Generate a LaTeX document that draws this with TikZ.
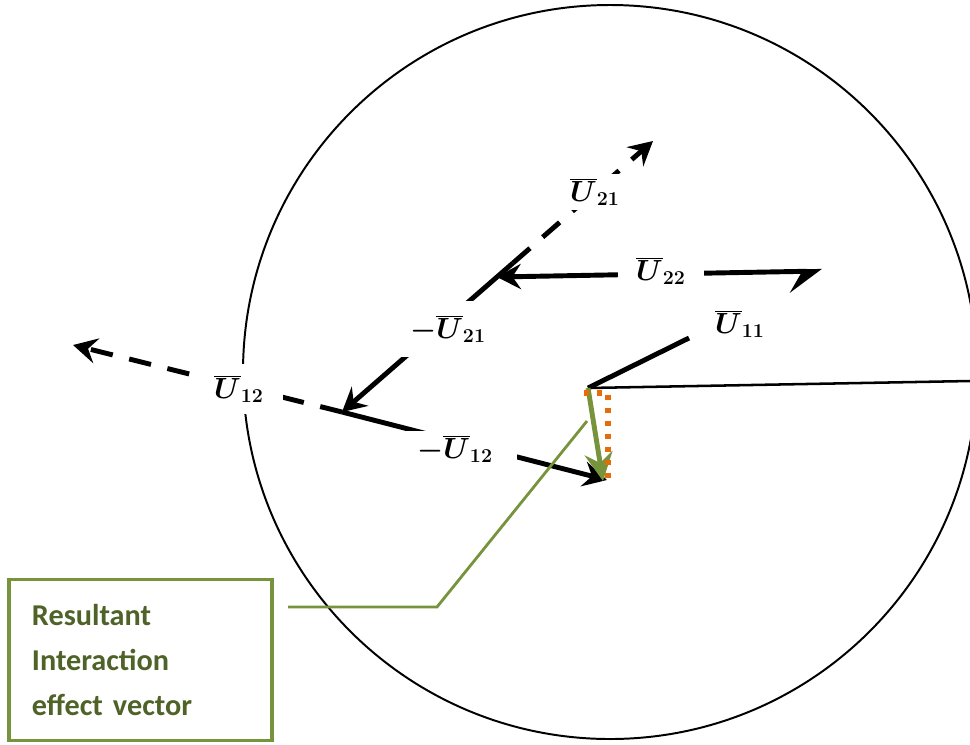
\documentclass[tikz,border=0pt]{standalone}
\usepackage{fontspec}
\newfontfamily\calibrifont{Carlito}
\usetikzlibrary{arrows.meta, positioning}
\definecolor{OG}{RGB}{119,147,60}
\definecolor{DOG}{RGB}{79,98,40}
\definecolor{OR}{RGB}{228,108,10}
\newcommand{\vlab}[2][]{$#1\overline{U}_{\mbox{\fontsize{14}{14}\selectfont\bfseries #2}}$}

\begin{document}
\begin{tikzpicture}[x=0.025cm, y=-0.025cm,
  seg/.style={line width=3.5pt},
  vec/.style={seg, -{Stealth[length=17pt, width=18pt, inset=6pt]}},
  dvec/.style={vec, dash pattern=on 16pt off 12pt},
  lab/.style={fill=white, inner ysep=3pt, font=\fontsize{21}{25}\selectfont\boldmath},
  notebox/.style={draw=OG, line width=2.5pt, minimum width=6.575cm, minimum height=4.025cm,
                  inner xsep=0.575cm, text width=5.425cm, align=left, text=DOG,
                  font=\calibrifont\bfseries\fontsize{21.5}{31.9}\selectfont}
]
\useasboundingbox (0,0) rectangle (970,744);

% circle and radius
\begin{scope}
  \clip (0,0) rectangle (970,744);
  \draw[line width=1.4pt] (610,372) circle[radius=367];
\end{scope}
\coordinate (O) at (588,388);
\coordinate (R) at (970,381);
\draw[line width=1.8pt] (O) -- (R);

% points
\coordinate (P) at (513,263);
\coordinate (Q) at (342,412);
\coordinate (u21) at (653,141);
\coordinate (u12) at (73,345);
\coordinate (mu12) at (607,480);
\coordinate (u22a) at (497,277);
\coordinate (u22b) at (822,271);
\coordinate (u11) at (689,338);
\coordinate (res) at (603,481);

% vectors
\draw[seg] (O) -- (u11);
\draw[seg, {Stealth[length=17pt, width=18pt, inset=6pt]}-{Stealth[harpoon, swap, length=21pt, width=30pt, inset=9pt]}] (u22a) -- (u22b);
\draw[dvec] (P) -- (u21);
\draw[vec] (P) -- (Q);
\draw[dvec] (Q) -- (u12);
\draw[vec] (Q) -- (mu12);

% resultant
\draw[line width=3.5pt, OG, -{Stealth[length=20pt, width=20pt, inset=7pt]}] (O) -- (res);
\draw[OR, line width=3.6pt, dash pattern=on 3.6pt off 5.6pt] (584,393) -- (608,393) -- (608,478);

% labels
\node[lab, inner xsep=7pt] (l21) at (595,192) {\vlab{21}};
\node[lab, inner xsep=13pt] (l22) at (661,271) {\vlab{22}};
\node[lab, inner xsep=4pt] (l11) at (740,324) {\vlab{11}};
\node[lab, inner sep=10pt] (lm21) at (448,329) {\vlab[-]{21}};
\node[lab, inner xsep=17pt] (lm12) at (455,449) {\vlab[-]{12}};
\node[lab, inner xsep=13.5pt, inner ysep=8pt] (l12) at (239,389) {\vlab{12}};

% callout
\node[notebox] (note) at (140.5,660) {Resultant\\Interaction\\effect vector};
\coordinate (c1) at (587,421);
\coordinate (c2) at (437,607);
\coordinate (c3) at (288,607);
\draw[OG, line width=2pt] (c1) -- (c2) -- (c3);
\end{tikzpicture}
\end{document}
